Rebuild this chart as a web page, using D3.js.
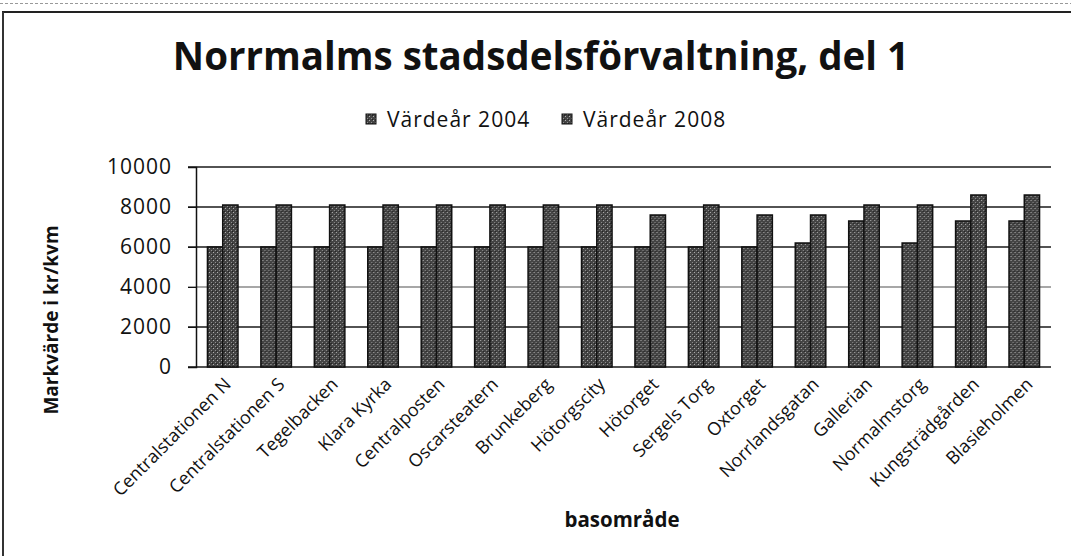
<!DOCTYPE html>
<html>
<head>
<meta charset="utf-8">
<script src="https://cdn.jsdelivr.net/npm/d3@7"></script>
<style>
  body { margin: 0; background: #fff; }
  text { font-family: "Open Sans", sans-serif; fill: #111; }
</style>
</head>
<body>
<div id="chart"></div>
<script>
// data
const areas = ["Centralstationen N", "Centralstationen S", "Tegelbacken", "Klara Kyrka",
  "Centralposten", "Oscarsteatern", "Brunkeberg", "Hötorgscity", "Hötorget", "Sergels Torg",
  "Oxtorget", "Norrlandsgatan", "Gallerian", "Normalmstorg", "Kungsträdgården", "Blasieholmen"];
const values2004 = [6000, 6000, 6000, 6000, 6000, 6000, 6000, 6000, 6000, 6000,
  6000, 6200, 7300, 6200, 7300, 7300];
const values2008 = [8100, 8100, 8100, 8100, 8100, 8100, 8100, 8100, 7600, 8100,
  7600, 7600, 8100, 8100, 8600, 8600];
const seriesNames = ["Värdeår 2004", "Värdeår 2008"];
const yTicks = [0, 2000, 4000, 6000, 8000, 10000];

const W = 1071, H = 556;
const plot = {left: 196, right: 1051, top: 167, bottom: 367};

const svg = d3.select("#chart").append("svg")
  .attr("width", W).attr("height", H);

// speckled fill, like the scanned bars
const defs = svg.append("defs");
const pat = defs.append("pattern")
  .attr("id", "speckle")
  .attr("patternUnits", "userSpaceOnUse")
  .attr("width", 4).attr("height", 4);
pat.append("rect").attr("width", 4).attr("height", 4).attr("fill", "#444");
pat.append("rect").attr("x", 1).attr("y", 0).attr("width", 1).attr("height", 1).attr("fill", "#b0b0b0");
pat.append("rect").attr("x", 3).attr("y", 2).attr("width", 1).attr("height", 1).attr("fill", "#8f8f8f");
pat.append("rect").attr("x", 0).attr("y", 3).attr("width", 1).attr("height", 1).attr("fill", "#222");

// frame of the scanned page
svg.append("line").attr("x1", 0).attr("x2", W).attr("y1", 3.5).attr("y2", 3.5)
  .attr("stroke", "#999").attr("stroke-width", 1).attr("stroke-dasharray", "3,2");
svg.append("line").attr("x1", 2).attr("x2", W).attr("y1", 12).attr("y2", 12)
  .attr("stroke", "#222").attr("stroke-width", 2);
svg.append("line").attr("x1", 3).attr("x2", 3).attr("y1", 12).attr("y2", H)
  .attr("stroke", "#333").attr("stroke-width", 2);

// scales
const x = d3.scaleBand()
  .domain(areas)
  .range([plot.left, plot.right]);
const xs = d3.scaleBand()
  .domain(seriesNames)
  .range([0, x.bandwidth()])
  .paddingInner(0)
  .paddingOuter(0.75);
const y = d3.scaleLinear()
  .domain([0, 10000])
  .range([plot.bottom, plot.top]);

// gridlines
svg.append("g")
  .selectAll("line")
  .data(yTicks)
  .join("line")
    .attr("x1", plot.left - 8)
    .attr("x2", plot.right)
    .attr("y1", d => y(d))
    .attr("y2", d => y(d))
    .attr("stroke", d => d === 4000 ? "#8a8a8a" : "#1a1a1a")
    .attr("stroke-width", 1.3);

// y axis
const yAxis = svg.append("g")
  .attr("transform", `translate(${plot.left},0)`)
  .call(d3.axisLeft(y).tickValues(yTicks).tickSize(8).tickPadding(16).tickFormat(d3.format("d")));
yAxis.select(".domain").attr("stroke", "#111").attr("stroke-width", 1.5);
yAxis.selectAll(".tick line").attr("stroke", "#111");
yAxis.selectAll(".tick text")
  .style("font-family", "'Open Sans', sans-serif")
  .style("font-size", "21px")
  .style("letter-spacing", "1px")
  .attr("fill", "#111");

// bars
const rows = areas.map((a, i) => ({area: a, vals: [values2004[i], values2008[i]]}));
svg.append("g")
  .selectAll("g")
  .data(rows)
  .join("g")
    .attr("transform", d => `translate(${x(d.area)},0)`)
  .selectAll("rect")
  .data(d => d.vals.map((v, k) => ({name: seriesNames[k], value: v})))
  .join("rect")
    .attr("x", d => xs(d.name))
    .attr("y", d => y(d.value))
    .attr("width", xs.bandwidth())
    .attr("height", d => y(0) - y(d.value))
    .attr("fill", "url(#speckle)")
    .attr("stroke", "#111")
    .attr("stroke-width", 1.5);

// x axis labels, rotated
svg.append("g")
  .selectAll("text")
  .data(areas)
  .join("text")
    .attr("transform", d => `translate(${x(d) + x.bandwidth() / 2 + 5},${plot.bottom + 14}) rotate(-45)`)
    .attr("text-anchor", "end")
    .attr("dy", "0.35em")
    .style("font-size", "18px")
    .text(d => d);

// title
svg.append("text")
  .attr("x", 541)
  .attr("y", 70)
  .attr("text-anchor", "middle")
  .style("font-size", "38.5px")
  .style("font-weight", "bold")
  .text("Norrmalms stadsdelsförvaltning, del 1");

// legend
const legend = svg.append("g");
const legendX = [366, 562];
seriesNames.forEach((name, i) => {
  legend.append("rect")
    .attr("x", legendX[i]).attr("y", 114)
    .attr("width", 10).attr("height", 10)
    .attr("fill", "url(#speckle)")
    .attr("stroke", "#111");
  legend.append("text")
    .attr("x", legendX[i] + 21).attr("y", 127)
    .style("font-size", "21px")
    .style("letter-spacing", "1px")
    .text(name);
});

// axis titles
svg.append("text")
  .attr("transform", `translate(58,320) rotate(-90)`)
  .attr("text-anchor", "middle")
  .style("font-size", "19px")
  .style("font-weight", "bold")
  .text("Markvärde i kr/kvm");

svg.append("text")
  .attr("x", 622)
  .attr("y", 527)
  .attr("text-anchor", "middle")
  .style("font-size", "20.5px")
  .style("font-weight", "bold")
  .text("basområde");
</script>
</body>
</html>
